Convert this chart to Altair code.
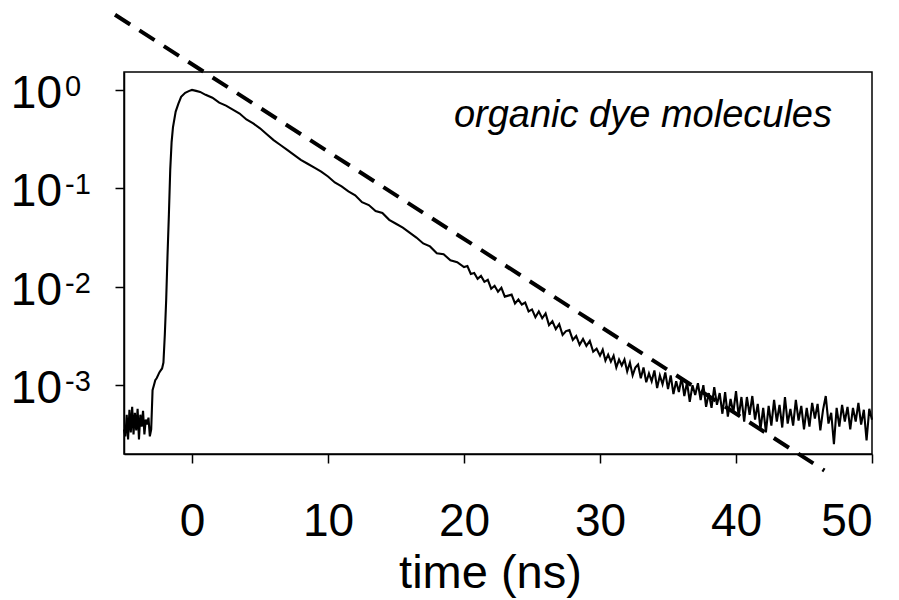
import altair as alt
import numpy as np
import pandas as pd

FONT = "Liberation Sans"

# ---- measured decay trace (log10 of normalised intensity), read from the picture ----
# pre-pulse background, t = -5.0 .. -3.0 (step 0.1)
t_pre = np.round(np.arange(-5.0, -2.95, 0.1), 2)
log_pre = [-3.45, -3.52, -3.30, -3.55, -3.25, -3.48, -3.22, -3.50, -3.28, -3.46,
           -3.24, -3.55, -3.30, -3.42, -3.26, -3.50, -3.35, -3.40, -3.33, -3.52, -3.45]

# rise and early decay
t_rise = [-2.9, -2.8, -2.7, -2.6, -2.5, -2.4, -2.3, -2.2, -2.1, -2.0, -1.9, -1.8, -1.7,
          -1.6, -1.5, -1.4, -1.2, -1.0, -0.8, -0.5, -0.2, 0.0, 0.3, 0.6, 1.0,
          1.5, 2.0, 2.5, 3.0, 3.5, 4.0, 4.5, 5.0, 5.5, 6.0, 6.5, 7.0, 7.5, 8.0, 8.5, 9.0, 9.5]
log_rise = [-3.05, -3.00, -2.95, -2.93, -2.90, -2.87, -2.85, -2.83, -2.77, -2.49, -2.14,
            -1.68, -1.27, -0.81, -0.53, -0.38, -0.22, -0.14, -0.07, -0.03, -0.01, 0.00,
            -0.01, -0.02, -0.05, -0.08, -0.13, -0.16, -0.20, -0.24, -0.30, -0.34, -0.39,
            -0.45, -0.51, -0.56, -0.61, -0.66, -0.71, -0.75, -0.79, -0.83]

# t = 10.0 .. 19.5 (step 0.5)
t_mid = np.round(np.arange(10.0, 19.75, 0.5), 2)
log_mid = [-0.88, -0.94, -0.98, -1.03, -1.07, -1.14, -1.17, -1.23, -1.25, -1.32,
           -1.36, -1.40, -1.45, -1.50, -1.56, -1.59, -1.66, -1.67, -1.73, -1.75]

# t = 20.0 .. 30.0 (step 0.25)
t_late = np.round(np.arange(20.0, 30.1, 0.25), 2)
log_late = [-1.80, -1.79, -1.87, -1.86, -1.92, -1.89, -1.95, -1.93, -2.02, -1.99,
            -2.05, -2.01, -2.10, -2.09, -2.08, -2.17, -2.13, -2.18, -2.16, -2.25,
            -2.23, -2.31, -2.25, -2.32, -2.27, -2.39, -2.35, -2.43, -2.38, -2.49,
            -2.45, -2.44, -2.54, -2.50, -2.59, -2.53, -2.60, -2.55, -2.66, -2.63, -2.70]

# t = 30.2 .. 50.0 (step 0.2)
t_tail = np.round(np.arange(30.2, 50.05, 0.2), 2)
log_tail = [-2.64, -2.75, -2.69, -2.76, -2.70,
            -2.82, -2.74, -2.80, -2.74, -2.86,
            -2.77, -2.90, -2.82, -2.79, -2.93,
            -2.82, -2.97, -2.88, -2.96, -2.85,
            -3.03, -2.90, -2.99, -2.87, -3.04,
            -2.90, -3.09, -2.96, -3.07, -2.92,
            -3.11, -2.97, -3.17, -3.00, -3.10,
            -2.98, -3.15, -3.00, -3.22, -3.08,
            -3.23, -3.02, -3.20, -3.08, -3.29,
            -3.07, -3.32, -3.14, -3.28, -3.06,
            -3.32, -3.12, -3.37, -3.12, -3.30,
            -3.11, -3.35, -3.19, -3.45, -3.23,
            -3.48, -3.21, -3.41, -3.15, -3.37,
            -3.20, -3.43, -3.12, -3.39, -3.24,
            -3.41, -3.15, -3.36, -3.21, -3.45,
            -3.23, -3.42, -3.18, -3.34, -3.19,
            -3.46, -3.25, -3.11, -3.39, -3.28,
            -3.60, -3.23, -3.42, -3.20, -3.37,
            -3.22, -3.45, -3.23, -3.37, -3.18,
            -3.40, -3.25, -3.56, -3.24, -3.35]

times = list(t_pre) + t_rise + list(t_mid) + list(t_late) + list(t_tail)
logs = log_pre + log_rise + log_mid + log_late + log_tail
assert len(times) == len(logs)
trace = pd.DataFrame({"t": times, "I": [10 ** v for v in logs]})

# ---- dashed single-exponential guide line (end points) ----
fit_t = [-5.66, 46.5]
fit_I = [5.8, 1.36e-4]
fit = pd.DataFrame({"t": fit_t, "I": fit_I})

# ---- y tick labels (10^n) ----
tick_vals = [1, 0.1, 0.01, 0.001]
tick_exp = ["0", "-1", "-2", "-3"]
ticks = pd.DataFrame({"t": [0] * 4, "I": tick_vals, "base": ["10"] * 4, "exp": tick_exp})

x_ticks = [0, 10, 20, 30, 40, 50]

xs = alt.Scale(domain=[-5, 50], nice=False, zero=False)
ys = alt.Scale(type="log", domain=[2.0e-4, 1.52], nice=False)

x_axis = alt.Axis(values=x_ticks, format="d", labelFont=FONT, labelFontSize=46,
                  labelColor="black", tickSize=9, labelPadding=36, grid=False,
                  title="time (ns)", titleFont=FONT, titleFontSize=47,
                  titleFontWeight="normal", titleColor="black",
                  titleX=366, titleY=133, titleBaseline="alphabetic",
                  titleAlign="center", titleAnchor="start")
y_axis = alt.Axis(values=tick_vals, labels=False, tickSize=9, grid=False, title=None)

X = alt.X("t:Q", scale=xs, axis=x_axis)
Y = alt.Y("I:Q", scale=ys, axis=y_axis)

line = alt.Chart(trace).mark_line(color="black", strokeWidth=2.1).encode(x=X, y=Y)

dashed = alt.Chart(fit).mark_line(color="black", strokeWidth=4, strokeDash=[18, 11],
                                  strokeCap="butt", clip=False).encode(x=X, y=Y)

base_lbl = alt.Chart(ticks).mark_text(font=FONT, fontSize=46, align="right",
                                      baseline="alphabetic", dy=18, color="black").encode(
    x=alt.value(-62), y=Y, text="base:N")
exp_lbl = alt.Chart(ticks).mark_text(font=FONT, fontSize=29, align="left",
                                     baseline="alphabetic", dy=6, color="black").encode(
    x=alt.value(-59), y=Y, text="exp:N")

annot = alt.Chart(pd.DataFrame({"label": ["organic dye molecules"]})).mark_text(
    font=FONT, fontSize=38, fontStyle="italic", align="right", baseline="alphabetic",
    color="black").encode(
    x=alt.value(708), y=alt.value(55), text="label:N")

chart = alt.layer(line, dashed, base_lbl, exp_lbl, annot).properties(
    width=748, height=382,
    autosize=alt.AutoSizeParams(type="none"),
    padding={"left": 124, "top": 72, "right": 27, "bottom": 146},
).configure_view(stroke="black", strokeWidth=1.5).configure_axis(
    domainColor="black", domainWidth=1.5, tickColor="black", tickWidth=1.5
)

chart.save("out.html", embed_options={"renderer": "svg", "actions": False})
